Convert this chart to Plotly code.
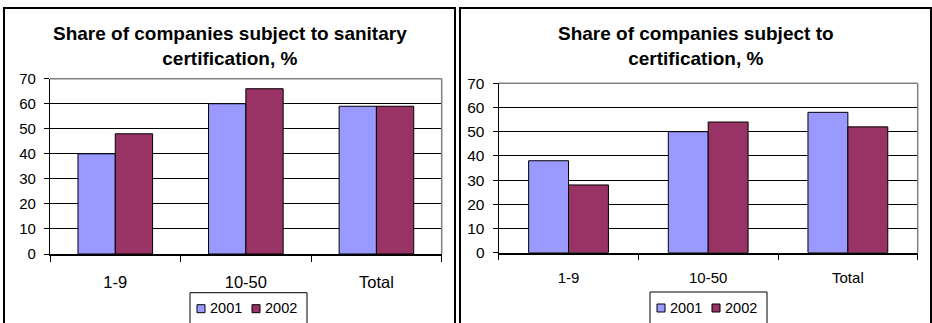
import plotly.graph_objects as go

# Data
categories = ["1-9", "10-50", "Total"]
series_names = ["2001", "2002"]
series_colors = ["#9999FF", "#993366"]

sanitary_2001 = [40, 60, 59]
sanitary_2002 = [48, 66, 59]
cert_2001 = [38, 50, 58]
cert_2002 = [28, 54, 52]

titles = [
    "Share of companies subject to sanitary<br>certification, %",
    "Share of companies subject to<br>certification, %",
]

W, H = 932, 323
FONT = "Liberation Sans, Arial, sans-serif"


def px(x):
    return x / W


def py(y):
    return (H - y) / H


fig = go.Figure()

panels = [
    dict(vals=[sanitary_2001, sanitary_2002], xa="x", ya="y",
         xdom=[px(50), px(441.7)], ydom=[py(254), py(78.7)],
         box=(4, 455), title_y=(33, 59), legend_left=190, legend_top=292.7,
         cat_size=16.5, cat_standoff=12, ytick_size=15),
    dict(vals=[cert_2001, cert_2002], xa="x2", ya="y2",
         xdom=[px(498.7), px(917.7)], ydom=[py(252.7), py(83.3)],
         box=(460, 931), title_y=(33, 59), legend_left=650, legend_top=292,
         cat_size=15, cat_standoff=11, ytick_size=15.5),
]

shapes = []
annotations = []

for i, p in enumerate(panels):
    for name, color, vals in zip(series_names, series_colors, p["vals"]):
        fig.add_trace(go.Bar(
            x=categories, y=vals, name=name,
            marker=dict(color=color, line=dict(color="black", width=1)),
            xaxis=p["xa"], yaxis=p["ya"], showlegend=False,
        ))

    sfx = "" if i == 0 else "2"
    fig.update_layout(**{
        f"xaxis{sfx}": dict(
            domain=p["xdom"], anchor=p["ya"], type="category",
            tickson="boundaries", ticks="outside", ticklen=6,
            tickcolor="black", tickwidth=1.2, showline=True,
            linecolor="black", linewidth=1.5, showgrid=False,
            ticklabelstandoff=p["cat_standoff"],
            tickfont=dict(size=p["cat_size"], color="black", family=FONT),
        ),
        f"yaxis{sfx}": dict(
            domain=p["ydom"], anchor=p["xa"], range=[0, 70], dtick=10,
            ticks="outside", ticklen=5, tickcolor="black", tickwidth=1.2,
            showline=True, linecolor="black", linewidth=1.2,
            showgrid=True, gridcolor="black", gridwidth=1.2, zeroline=False,
            ticklabelstandoff=5,
            tickfont=dict(size=p["ytick_size"], color="black", family=FONT),
        ),
    })

    xd = f"{p['xa']} domain"
    yd = f"{p['ya']} domain"
    # grey plot-area border on top and right
    shapes.append(dict(type="line", xref=xd, yref=yd, x0=0, x1=1, y0=1, y1=1,
                       line=dict(color="#808080", width=1.5), layer="above"))
    shapes.append(dict(type="line", xref=xd, yref=yd, x0=1, x1=1, y0=0, y1=1,
                       line=dict(color="#808080", width=1.5), layer="above"))

    # outer chart frame
    x0, x1 = p["box"]
    shapes.append(dict(type="rect", xref="paper", yref="paper",
                       x0=px(x0), x1=px(x1), y0=py(340), y1=py(8),
                       line=dict(color="black", width=2), layer="below"))

    # title
    annotations.append(dict(
        text=f"<b>{titles[i]}</b>", xref="paper", yref="paper",
        x=px((x0 + x1) / 2), y=py(sum(p["title_y"]) / 2),
        xanchor="center", yanchor="middle", showarrow=False,
        font=dict(size=19, color="black", family=FONT),
    ))

    # legend box with swatches
    lx, ly = p["legend_left"], p["legend_top"]
    shapes.append(dict(type="rect", xref="paper", yref="paper",
                       x0=px(lx), x1=px(lx + 117), y0=py(340), y1=py(ly),
                       line=dict(color="black", width=1), fillcolor="white",
                       layer="above"))
    for k, (name, color) in enumerate(zip(series_names, series_colors)):
        sx = lx + 7 + k * 55
        shapes.append(dict(type="rect", xref="paper", yref="paper",
                           x0=px(sx), x1=px(sx + 8), y0=py(ly + 20),
                           y1=py(ly + 12), fillcolor=color,
                           line=dict(color="black", width=1), layer="above"))
        annotations.append(dict(
            text=name, xref="paper", yref="paper", x=px(sx + 11),
            y=py(ly + 15.5), xanchor="left", yanchor="middle",
            showarrow=False,
            font=dict(size=14.5, color="black", family=FONT),
        ))

fig.update_layout(
    width=W, height=H,
    margin=dict(l=0, r=0, t=0, b=0, autoexpand=False),
    paper_bgcolor="white", plot_bgcolor="white",
    barmode="group", bargap=1.5 / 3.5, bargroupgap=0,
    shapes=shapes, annotations=annotations,
    font=dict(family=FONT, color="black"),
)

fig.write_html("out.html")
